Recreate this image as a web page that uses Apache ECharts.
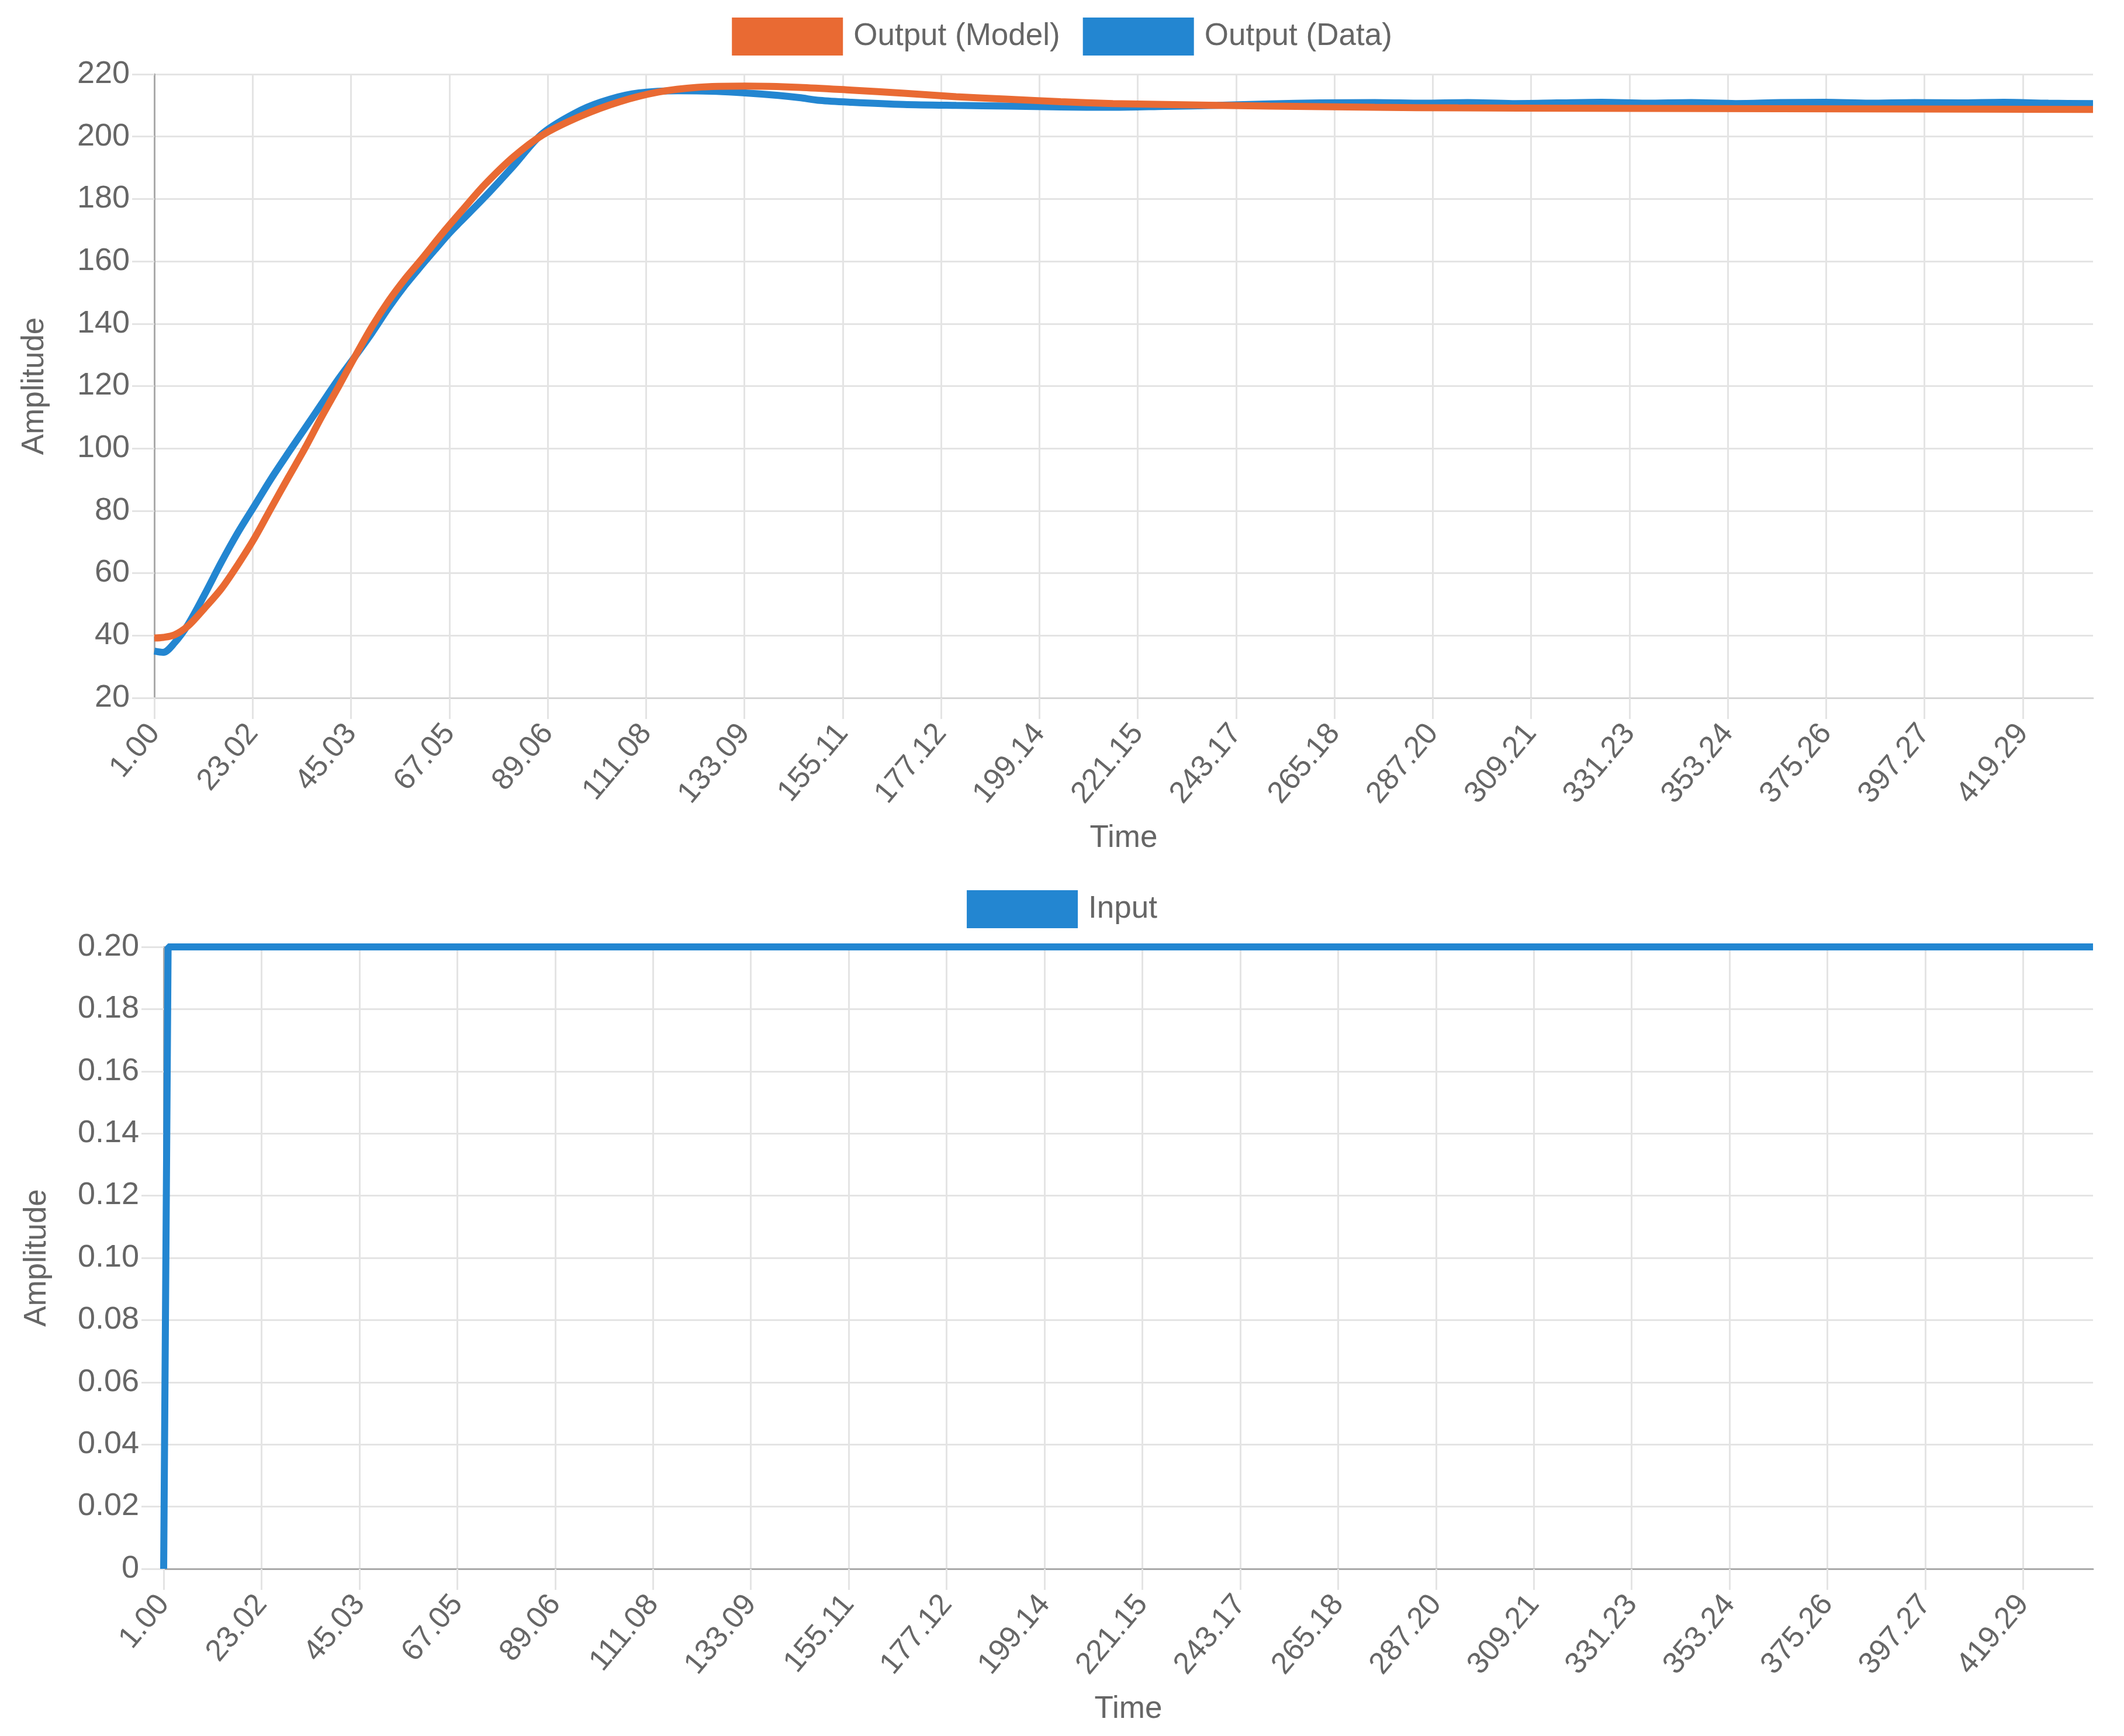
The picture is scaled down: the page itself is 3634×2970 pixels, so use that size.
<!DOCTYPE html>
<html>
<head>
<meta charset="utf-8">
<script src="https://cdn.jsdelivr.net/npm/echarts@6/dist/echarts.min.js"></script>
<style>
  html, body { margin: 0; padding: 0; background: #fff; }
  #chart { width: 3634px; height: 2970px; }
</style>
</head>
<body>
<div id="chart"></div>
<script>
// tick labels of the time axis (same for both panels)
const xTicks = [1.00, 23.02, 45.03, 67.05, 89.06, 111.08, 133.09, 155.11, 177.12, 199.14,
  221.15, 243.17, 265.18, 287.20, 309.21, 331.23, 353.24, 375.26, 397.27, 419.29]

// Output (Model)
const modelTime = [1, 3, 5.5, 8.5, 12.2, 16, 19.7, 23.5, 27.2, 31, 34.7, 38.4, 42.2, 45.9, 49.7,
  53.4, 57.2, 60.9, 65.4, 70, 74.9, 81.4, 87.9, 96.5, 105.2, 113.9, 122.5, 133.3, 145.4, 157.1,
  168.8, 180.5, 192.2, 203.9, 215.6, 227.3, 250.7, 274.2, 292.9, 320, 350, 380, 410, 435]
const modelValues = [39.2, 39.4, 40.2, 43, 48.7, 55, 62.7, 71.4, 81, 90.7, 100, 110, 119.7, 129.4, 139,
  147.2, 154.5, 160.8, 168.8, 176.5, 184.5, 193.5, 200.5, 206.6, 211.2, 214.3, 215.8, 216.2, 215.8, 214.9,
  213.9, 212.8, 212, 211.2, 210.6, 210.3, 209.8, 209.4, 209.2, 209.1, 209, 208.9, 208.8, 208.7]

// Output (Data)
const dataTime = [1, 3, 5.5, 8.5, 12.2, 16, 19.7, 23.5, 27.2, 31, 34.7, 38.4, 42.2, 45.9, 49.7,
  53.4, 57.2, 60.9, 64, 66.9, 69.4, 74.9, 81.4, 87.9, 96.5, 103, 109.5, 118.2, 126.8, 133.3,
  140.7, 145.4, 150, 157.1, 168.8, 180.5, 192.2, 203.9, 215.6, 227.3, 239, 250.7, 262, 274.2,
  285, 295, 305, 315, 325, 335, 345, 355, 365, 375, 385, 395, 405, 415, 425, 435]
const dataValues = [35, 34.6, 37.6, 43.4, 53, 63.5, 73, 81.8, 90.4, 98.6, 106.4, 114.2, 122.2, 129.4, 137,
  145, 152.4, 158.8, 164, 168.8, 172.5, 180.5, 190.6, 201, 208.5, 212, 214, 214.7, 214.5, 214,
  213.2, 212.5, 211.6, 211, 210.3, 210, 209.8, 209.5, 209.4, 209.7, 210, 210.5, 210.8, 210.9,
  210.7, 210.9, 210.6, 210.8, 211.0, 210.7, 210.9, 210.6, 210.9, 211.0, 210.7, 210.9, 210.8, 211.0, 210.7, 210.6]

// Input
const inputTime = [1, 2, 435]
const inputValues = [0, 0.2, 0.2]

const orange = '#E96A33'
const blue = '#2386D1'
const textColor = '#666'
const gridColor = '#e4e4e4'
const font = 'Liberation Sans, Arial, sans-serif'

function pairs (xs, ys) {
  return xs.map((x, i) => [x, ys[i]])
}

function timeAxis (gridIndex, lineColor) {
  return {
    type: 'value',
    gridIndex: gridIndex,
    min: 1,
    max: 435,
    name: 'Time',
    nameLocation: 'middle',
    nameGap: 214,
    nameTextStyle: { color: textColor, fontSize: 53, fontFamily: font },
    axisLine: { show: true, onZero: false, lineStyle: { color: lineColor, width: 3 } },
    axisTick: { show: true, customValues: xTicks, length: 36, lineStyle: { color: gridColor, width: 3 } },
    axisLabel: {
      customValues: xTicks,
      rotate: 50,
      margin: 52,
      color: textColor,
      fontSize: 52,
      fontFamily: font,
      formatter: v => v.toFixed(2)
    },
    splitLine: { show: true, lineStyle: { color: gridColor, width: 3 } }
  }
}

function ampAxis (gridIndex, min, max, interval, gap, fmt) {
  return {
    type: 'value',
    gridIndex: gridIndex,
    min: min,
    max: max,
    interval: interval,
    name: 'Amplitude',
    nameLocation: 'middle',
    nameGap: gap,
    nameTextStyle: { color: textColor, fontSize: 53, fontFamily: font },
    axisLine: { show: true, lineStyle: { color: '#aaa', width: 3 } },
    axisTick: { show: true, length: 38, lineStyle: { color: gridColor, width: 3 } },
    axisLabel: { margin: 42, color: textColor, fontSize: 54, fontFamily: font, formatter: fmt },
    splitLine: { show: true, lineStyle: { color: gridColor, width: 3 } }
  }
}

const chart = echarts.init(document.getElementById('chart'))
chart.setOption({
  backgroundColor: '#fff',
  animation: false,
  legend: [
    {
      top: 25,
      left: 'center',
      itemWidth: 190,
      itemHeight: 65,
      itemGap: 39,
      icon: 'rect',
      data: ['Output (Model)', 'Output (Data)'],
      textStyle: { color: textColor, fontSize: 53, fontFamily: font, padding: [0, 0, 0, 13] }
    },
    {
      top: 1518,
      left: 'center',
      itemWidth: 190,
      itemHeight: 65,
      icon: 'rect',
      data: ['Input'],
      textStyle: { color: textColor, fontSize: 53, fontFamily: font, padding: [0, 0, 0, 13] }
    }
  ],
  grid: [
    { left: 264, right: 53, top: 127, height: 1067, outerBoundsMode: 'none' },
    { left: 280, right: 53, top: 1620, height: 1064, outerBoundsMode: 'none' }
  ],
  xAxis: [timeAxis(0, '#d6d6d6'), timeAxis(1, '#aaa')],
  yAxis: [
    ampAxis(0, 20, 220, 20, 178, v => String(v)),
    ampAxis(1, 0, 0.2, 0.02, 190, v => (v === 0 ? '0' : v.toFixed(2)))
  ],
  series: [
    {
      name: 'Output (Data)',
      type: 'line',
      xAxisIndex: 0,
      yAxisIndex: 0,
      data: pairs(dataTime, dataValues),
      showSymbol: false,
      smooth: 0.3,
      clip: false,
      z: 2,
      itemStyle: { color: blue },
      lineStyle: { color: blue, width: 12 }
    },
    {
      name: 'Output (Model)',
      type: 'line',
      xAxisIndex: 0,
      yAxisIndex: 0,
      data: pairs(modelTime, modelValues),
      showSymbol: false,
      smooth: 0.3,
      clip: false,
      z: 3,
      itemStyle: { color: orange },
      lineStyle: { color: orange, width: 12 }
    },
    {
      name: 'Input',
      type: 'line',
      xAxisIndex: 1,
      yAxisIndex: 1,
      data: pairs(inputTime, inputValues),
      showSymbol: false,
      clip: false,
      itemStyle: { color: blue },
      lineStyle: { color: blue, width: 12 }
    }
  ]
})
</script>
</body>
</html>
